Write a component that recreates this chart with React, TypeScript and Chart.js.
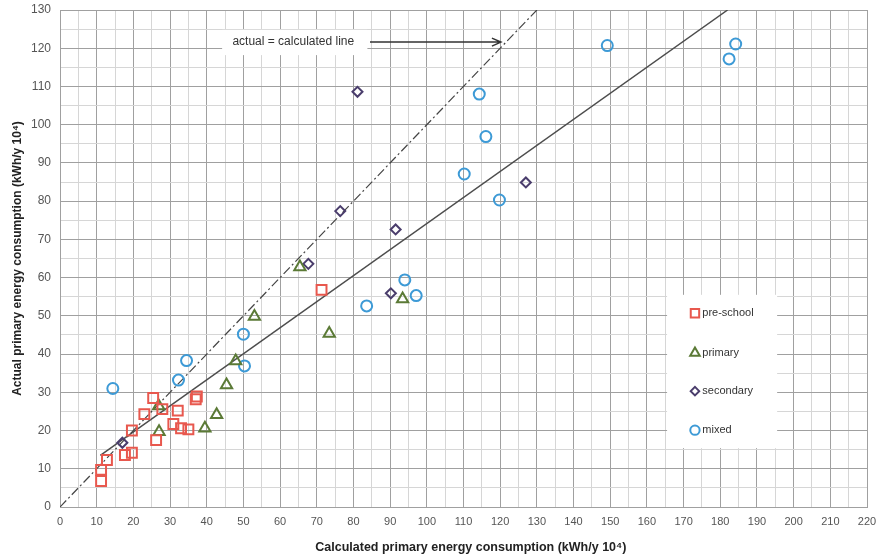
import React, { useEffect, useRef } from 'react';
import { Chart, registerables } from 'chart.js';
import { drawPoint } from 'chart.js/helpers';

Chart.register(...registerables);

// ---- data ----
const seriesNames = ['pre-school', 'primary', 'secondary', 'mixed'];

const preSchoolX = [11.2, 11.2, 12.8, 17.7, 19.6, 19.6, 23.0, 25.4, 27.9, 26.2, 32.1, 30.9, 33.0, 35.0, 37.3, 37.0, 71.3];
const preSchoolY = [6.8, 9.7, 12.3, 13.6, 14.2, 20.0, 24.3, 28.5, 25.6, 17.5, 25.2, 21.7, 20.6, 20.3, 28.9, 28.2, 56.8];

const primaryX = [26.9, 27.0, 39.5, 42.7, 45.4, 47.9, 53.0, 65.4, 73.4, 93.4];
const primaryY = [26.4, 19.7, 20.6, 24.1, 31.9, 38.2, 49.8, 62.8, 45.4, 54.4];

const secondaryX = [17.0, 67.7, 76.4, 91.5, 90.2, 81.1, 127.0];
const secondaryY = [16.8, 63.6, 77.4, 72.6, 55.9, 108.6, 84.9];

const mixedX = [14.4, 32.3, 34.5, 50.0, 50.3, 83.6, 94.0, 97.1, 110.2, 114.3, 116.1, 119.8, 149.2, 182.4, 184.2];
const mixedY = [31.0, 33.2, 38.3, 45.2, 36.9, 52.6, 59.4, 55.3, 87.1, 108.0, 96.9, 80.3, 120.7, 117.2, 121.1];

const fitLineX = [11, 182];
const fitLineY = [13.5, 130];

const identityX = [0, 130];
const identityY = [0, 130];

const xMin = 0, xMax = 220, yMin = 0, yMax = 130;
const xTitle = 'Calculated primary energy consumption (kWh/y 10\u2074)';
const yTitle = 'Actual primary energy consumption (kWh/y 10\u2074)';
const annotationText = 'actual = calculated line';

const zip = (xs: number[], ys: number[]) => xs.map((x, i) => ({ x, y: ys[i] }));

// ---- styles ----
const MAJOR = '#a0a0a0';
const MINOR = '#d6d6d6';
const FONT = 'Arial, "Liberation Sans", Helvetica, sans-serif';

const markerStyles = [
  { pointStyle: 'rect', radius: 7, color: '#e8584e' },
  { pointStyle: 'triangle', radius: 6.5, color: '#5b7a36' },
  { pointStyle: 'rectRot', radius: 5, color: '#4a3d6c' },
  { pointStyle: 'circle', radius: 5.5, color: '#3d9ad6' },
];

const annotationPlugin = {
  id: 'annotationBox',
  beforeDatasetsDraw(chart: any) {
    const { ctx, scales } = chart;
    const x = scales.x, y = scales.y;
    const bx0 = x.getPixelForValue(44.2), bx1 = x.getPixelForValue(83.8);
    const by0 = y.getPixelForValue(124.8), by1 = y.getPixelForValue(118.2);
    ctx.save();
    ctx.fillStyle = '#ffffff';
    ctx.fillRect(bx0, by0, bx1 - bx0, by1 - by0);
    const lx0 = x.getPixelForValue(165.5), lx1 = x.getPixelForValue(195.5);
    const ly0 = y.getPixelForValue(55.5), ly1 = y.getPixelForValue(15.4);
    ctx.fillRect(lx0, ly0, lx1 - lx0, ly1 - ly0);
    ctx.restore();
  },
  afterDatasetsDraw(chart: any) {
    const { ctx, scales } = chart;
    const x = scales.x, y = scales.y;
    ctx.save();
    ctx.font = `12px ${FONT}`;
    ctx.fillStyle = '#333';
    ctx.textAlign = 'center';
    ctx.textBaseline = 'middle';
    ctx.fillText(annotationText, x.getPixelForValue(63.6), y.getPixelForValue(121.6));
    const ax0 = x.getPixelForValue(84.5), ax1 = x.getPixelForValue(120.2);
    const ay = y.getPixelForValue(121.6);
    ctx.strokeStyle = '#333';
    ctx.lineWidth = 1.5;
    ctx.beginPath();
    ctx.moveTo(ax0, ay);
    ctx.lineTo(ax1, ay);
    ctx.moveTo(ax1 - 9, ay - 4);
    ctx.lineTo(ax1, ay);
    ctx.lineTo(ax1 - 9, ay + 4);
    ctx.stroke();

    const legendY = [50.7, 40.3, 30.3, 20.1];
    const mx = x.getPixelForValue(173.1);
    const tx = x.getPixelForValue(175.1);
    ctx.textAlign = 'left';
    ctx.font = `11px ${FONT}`;
    seriesNames.forEach((name, i) => {
      const py = y.getPixelForValue(legendY[i]);
      const ms = markerStyles[i];
      ctx.strokeStyle = ms.color;
      ctx.fillStyle = '#ffffff';
      ctx.lineWidth = 2;
      drawPoint(ctx, { pointStyle: ms.pointStyle as any, radius: ms.radius * 0.85, rotation: 0, borderWidth: 2 } as any, mx, py);
      ctx.fillStyle = '#333';
      ctx.fillText(name, tx, py);
    });

    // x-axis title, centred under the plot as in the reference
    ctx.font = `bold 12.5px ${FONT}`;
    ctx.fillStyle = '#222';
    ctx.textAlign = 'center';
    ctx.textBaseline = 'middle';
    ctx.fillText(xTitle, x.getPixelForValue(112), chart.height - 11);
    ctx.restore();
  },
};

export default function App() {
  const ref = useRef<HTMLCanvasElement | null>(null);

  useEffect(() => {
    if (!ref.current) return;
    const seriesX = [preSchoolX, primaryX, secondaryX, mixedX];
    const seriesY = [preSchoolY, primaryY, secondaryY, mixedY];
    const scatterSets = seriesNames.map((name, i) => ({
      type: 'scatter' as const,
      label: name,
      data: zip(seriesX[i], seriesY[i]),
      pointStyle: markerStyles[i].pointStyle as any,
      pointRadius: markerStyles[i].radius,
      pointBorderWidth: 2,
      pointBorderColor: markerStyles[i].color,
      pointBackgroundColor: 'rgba(255,255,255,0)',
      borderColor: markerStyles[i].color,
      showLine: false,
      order: 0,
    }));

    const chart = new Chart(ref.current, {
      type: 'scatter',
      data: {
        datasets: [
          {
            type: 'line' as const,
            label: 'actual = calculated',
            data: zip(identityX, identityY),
            borderColor: '#444',
            borderWidth: 1.2,
            borderDash: [9, 3, 2, 3],
            pointRadius: 0,
            fill: false,
            order: 2,
          },
          {
            type: 'line' as const,
            label: 'fit',
            data: zip(fitLineX, fitLineY),
            borderColor: '#4d4d4d',
            borderWidth: 1.5,
            pointRadius: 0,
            fill: false,
            order: 2,
          },
          ...scatterSets,
        ] as any,
      },
      options: {
        responsive: false,
        animation: false,
        devicePixelRatio: 1,
        layout: { padding: { left: 0, top: 10, right: 13, bottom: 0 } },
        plugins: {
          legend: { display: false },
          tooltip: { enabled: false },
        },
        scales: {
          x: {
            type: 'linear',
            min: xMin,
            max: xMax,
            afterFit: (s: any) => { s.height = 52; s.paddingLeft = 0; s.paddingRight = 0; },
            ticks: {
              stepSize: 5,
              autoSkip: false,
              maxRotation: 0,
              padding: 8,
              color: '#555',
              font: { size: 11, family: FONT },
              callback: (v: any) => (Number(v) % 10 === 0 ? String(v) : ''),
            },
            grid: {
              drawTicks: false,
              color: (c: any) => (c.tick && c.tick.value % 10 === 0 ? MAJOR : MINOR),
            },
            border: { color: MAJOR },
            title: { display: false },
          },
          y: {
            type: 'linear',
            min: yMin,
            max: yMax,
            afterFit: (s: any) => { s.width = 60; s.paddingTop = 0; s.paddingBottom = 0; },
            ticks: {
              stepSize: 5,
              autoSkip: false,
              padding: 9,
              color: '#555',
              font: { size: 12, family: FONT },
              callback: (v: any) => (Number(v) % 10 === 0 ? String(v) : ''),
            },
            grid: {
              drawTicks: false,
              color: (c: any) => (c.tick && c.tick.value % 10 === 0 ? MAJOR : MINOR),
            },
            border: { color: MAJOR },
            title: {
              display: true,
              text: yTitle,
              color: '#222',
              font: { size: 12, weight: 'bold', family: FONT },
              padding: { top: 10, bottom: 0 },
            },
          },
        },
      } as any,
      plugins: [annotationPlugin],
    });
    return () => chart.destroy();
  }, []);

  return (
    <div style={{ position: 'fixed', left: 0, top: 0, width: 880, height: 559, background: '#fff' }}>
      <canvas ref={ref} width={880} height={559} style={{ display: 'block' }} />
    </div>
  );
}
